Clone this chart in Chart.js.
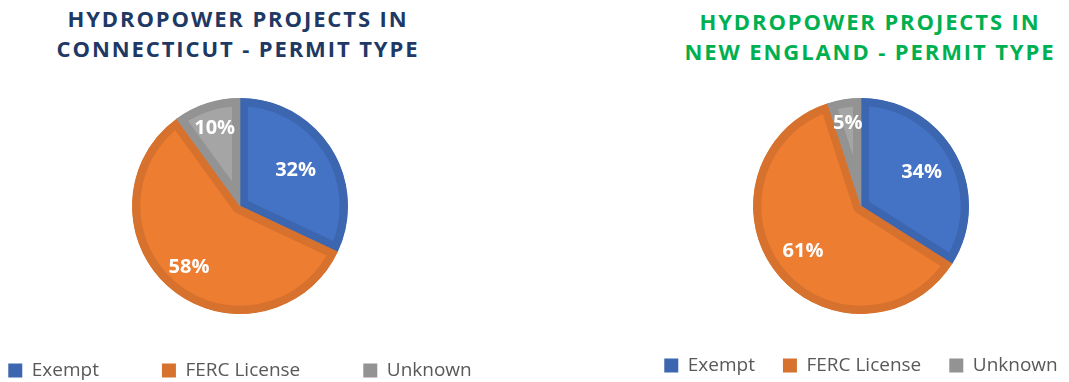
<!DOCTYPE html>
<html>
<head>
<meta charset="utf-8">
<script src="https://cdn.jsdelivr.net/npm/chart.js@4"></script>
<style>
  html, body { margin: 0; padding: 0; background: #ffffff; overflow: hidden; }
  body { width: 1069px; height: 382px; position: relative; overflow: hidden; }
  .title { position: absolute; font-family: "Open Sans", sans-serif; font-weight: 700; font-size: 22px;
           line-height: 30px; letter-spacing: 1.9px; text-align: center; white-space: nowrap; }
  .box { position: absolute; }
</style>
</head>
<body>
<div class="title" id="t1" style="left:38px; top:3px; width:400px; color:#203864;">HYDROPOWER PROJECTS IN<br>CONNECTICUT - PERMIT TYPE</div>
<div class="title" id="t2" style="left:670px; top:6px; width:400px; color:#00B050;">HYDROPOWER PROJECTS IN<br>NEW ENGLAND - PERMIT TYPE</div>
<div class="box" style="left:-65px; top:0px; width:620px; height:390px;"><canvas id="c1"></canvas></div>
<div class="box" style="left:616px; top:0px; width:500px; height:385px;"><canvas id="c2"></canvas></div>
<script>
// ---- data ----
const categories = ["Exempt", "FERC License", "Unknown"];
const connecticutShare = [32, 58, 10];
const newEnglandShare = [34, 61, 5];

// ---- styles ----
const fillColors = ["#4472C4", "#ED7D31", "#A5A5A5"];
const edgeColors = ["#3D66B1", "#D6712E", "#939393"];

const pctLabels = {
  id: "pctLabels",
  afterDatasetsDraw(chart, args, opts) {
    const ctx = chart.ctx;
    const meta = chart.getDatasetMeta(0);
    const values = chart.data.datasets[0].data;
    ctx.save();
    ctx.font = "bold 20px 'Open Sans', sans-serif";
    ctx.fillStyle = "#ffffff";
    ctx.textAlign = "center";
    ctx.textBaseline = "middle";
    meta.data.forEach((arc, i) => {
      const p = arc.getProps(["x", "y", "startAngle", "endAngle", "outerRadius"], true);
      const mid = (p.startAngle + p.endAngle) / 2;
      const r = p.outerRadius * opts.radial[i];
      ctx.fillText(values[i] + "%", p.x + Math.cos(mid) * r, p.y + Math.sin(mid) * r);
    });
    ctx.restore();
  }
};

function makePie(id, values, padTop, padRight, legendGap, radial) {
  new Chart(document.getElementById(id), {
    type: "pie",
    data: {
      labels: categories,
      datasets: [{
        data: values,
        backgroundColor: fillColors,
        borderColor: edgeColors,
        borderWidth: 8,
        borderAlign: "inner",
        radius: 108,
        clip: false
      }]
    },
    options: {
      responsive: true,
      maintainAspectRatio: false,
      animation: false,
      events: [],
      layout: { padding: { top: padTop, right: padRight, bottom: 0, left: 0 } },
      plugins: {
        tooltip: { enabled: false },
        title: { display: false },
        pctLabels: { radial: radial },
        legend: {
          display: true,
          position: "bottom",
          labels: {
            font: { family: "'Open Sans', sans-serif", size: 19 },
            color: "#595959",
            boxWidth: 14,
            boxHeight: 14,
            padding: legendGap,
            generateLabels(chart) {
              return categories.map((c, i) => ({
                text: c,
                fillStyle: edgeColors[i],
                strokeStyle: edgeColors[i],
                lineWidth: 0,
                fontColor: "#595959",
                hidden: false,
                index: i
              }));
            }
          }
        }
      }
    },
    plugins: [pctLabels]
  });
}

makePie("c1", connecticutShare, 114, 10, 63, [0.61, 0.74, 0.76]);
makePie("c2", newEnglandShare, 84, 10, 28, [0.64, 0.68, 0.78]);
</script>
</body>
</html>
